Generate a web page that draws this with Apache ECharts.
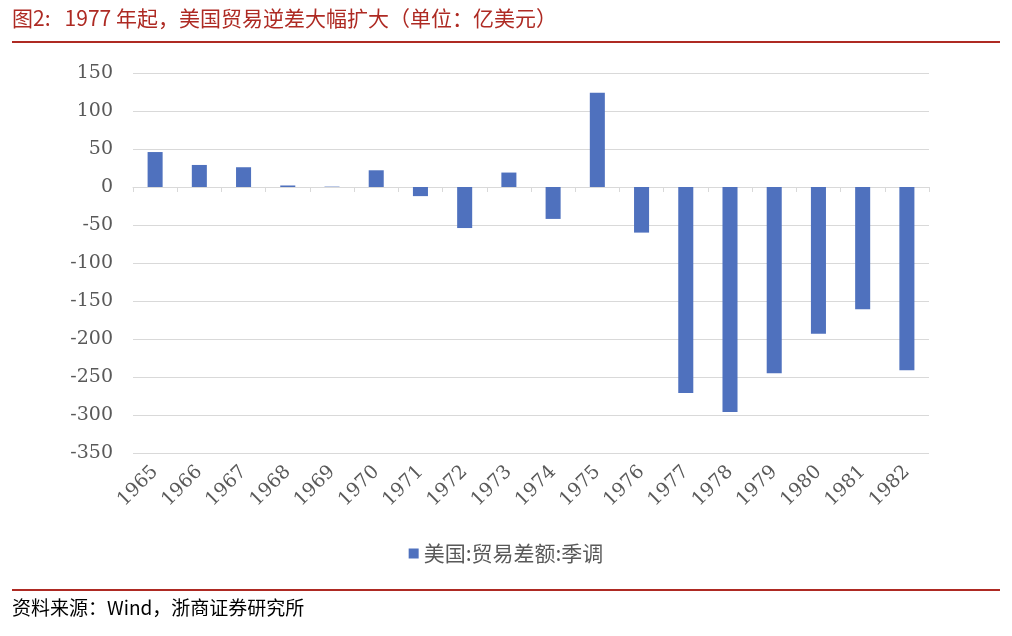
<!DOCTYPE html>
<html><head><meta charset="utf-8">
<script src="https://cdn.jsdelivr.net/npm/echarts@6/dist/echarts.min.js"></script>
<style>html,body{margin:0;padding:0;background:#fff}#c{width:1012px;height:636px}</style>
</head><body><div id="c"></div>
<script>
const categories = ['1965','1966','1967','1968','1969','1970','1971','1972','1973','1974','1975','1976','1977','1978','1979','1980','1981','1982'];
const tradeBalance = [46, 29, 26, 2, 0.5, 22, -12, -54, 19, -42, 124, -60, -271, -296, -245, -193, -161, -241];
const seriesName = '美国:贸易差额:季调';
const titleText = '图2:   1977 年起，美国贸易逆差大幅扩大（单位：亿美元）';
const sourceText = '资料来源：Wind，浙商证券研究所';

const chart = echarts.init(document.getElementById('c'));
const red = '#AE2A23';
chart.setOption({
  backgroundColor: '#fff',
  animation: false,
  grid: {left: 133, right: 83, top: 73, bottom: 183},
  legend: {
    data: [seriesName], top: 538, left: 'center',
    itemWidth: 10, itemHeight: 10, icon: 'rect', itemGap: 8,
    textStyle: {fontFamily: 'Noto Sans CJK SC', fontSize: 21, color: '#595959'}
  },
  xAxis: {
    type: 'category', data: categories,
    axisLine: {onZero: true, lineStyle: {color: '#D9D9D9', width: 1}},
    axisTick: {show: true, alignWithLabel: false, length: 5, lineStyle: {color: '#D9D9D9'}},
    axisLabel: {rotate: 45, color: '#595959', fontFamily: 'DejaVu Serif', fontSize: 19, margin: 16, interval: 0}
  },
  yAxis: {
    type: 'value', min: -350, max: 150, interval: 50,
    axisLine: {show: false}, axisTick: {show: false},
    splitLine: {lineStyle: {color: '#D9D9D9', width: 1}},
    axisLabel: {color: '#595959', fontFamily: 'DejaVu Serif', fontSize: 19, margin: 20}
  },
  series: [{
    name: seriesName, type: 'bar', data: tradeBalance, barWidth: '34%',
    itemStyle: {color: '#4F71BE'}
  }],
  graphic: [
    {type: 'text', left: 12, top: 8, style: {text: titleText, fill: red, font: '21px "Noto Sans CJK SC"'}},
    {type: 'rect', shape: {x: 12, y: 41, width: 988, height: 2}, style: {fill: red}},
    {type: 'rect', shape: {x: 12, y: 589, width: 988, height: 2}, style: {fill: red}},
    {type: 'text', left: 12, top: 598, style: {text: sourceText, fill: '#000', font: '19px "Noto Sans CJK SC"'}}
  ]
});
</script></body></html>
